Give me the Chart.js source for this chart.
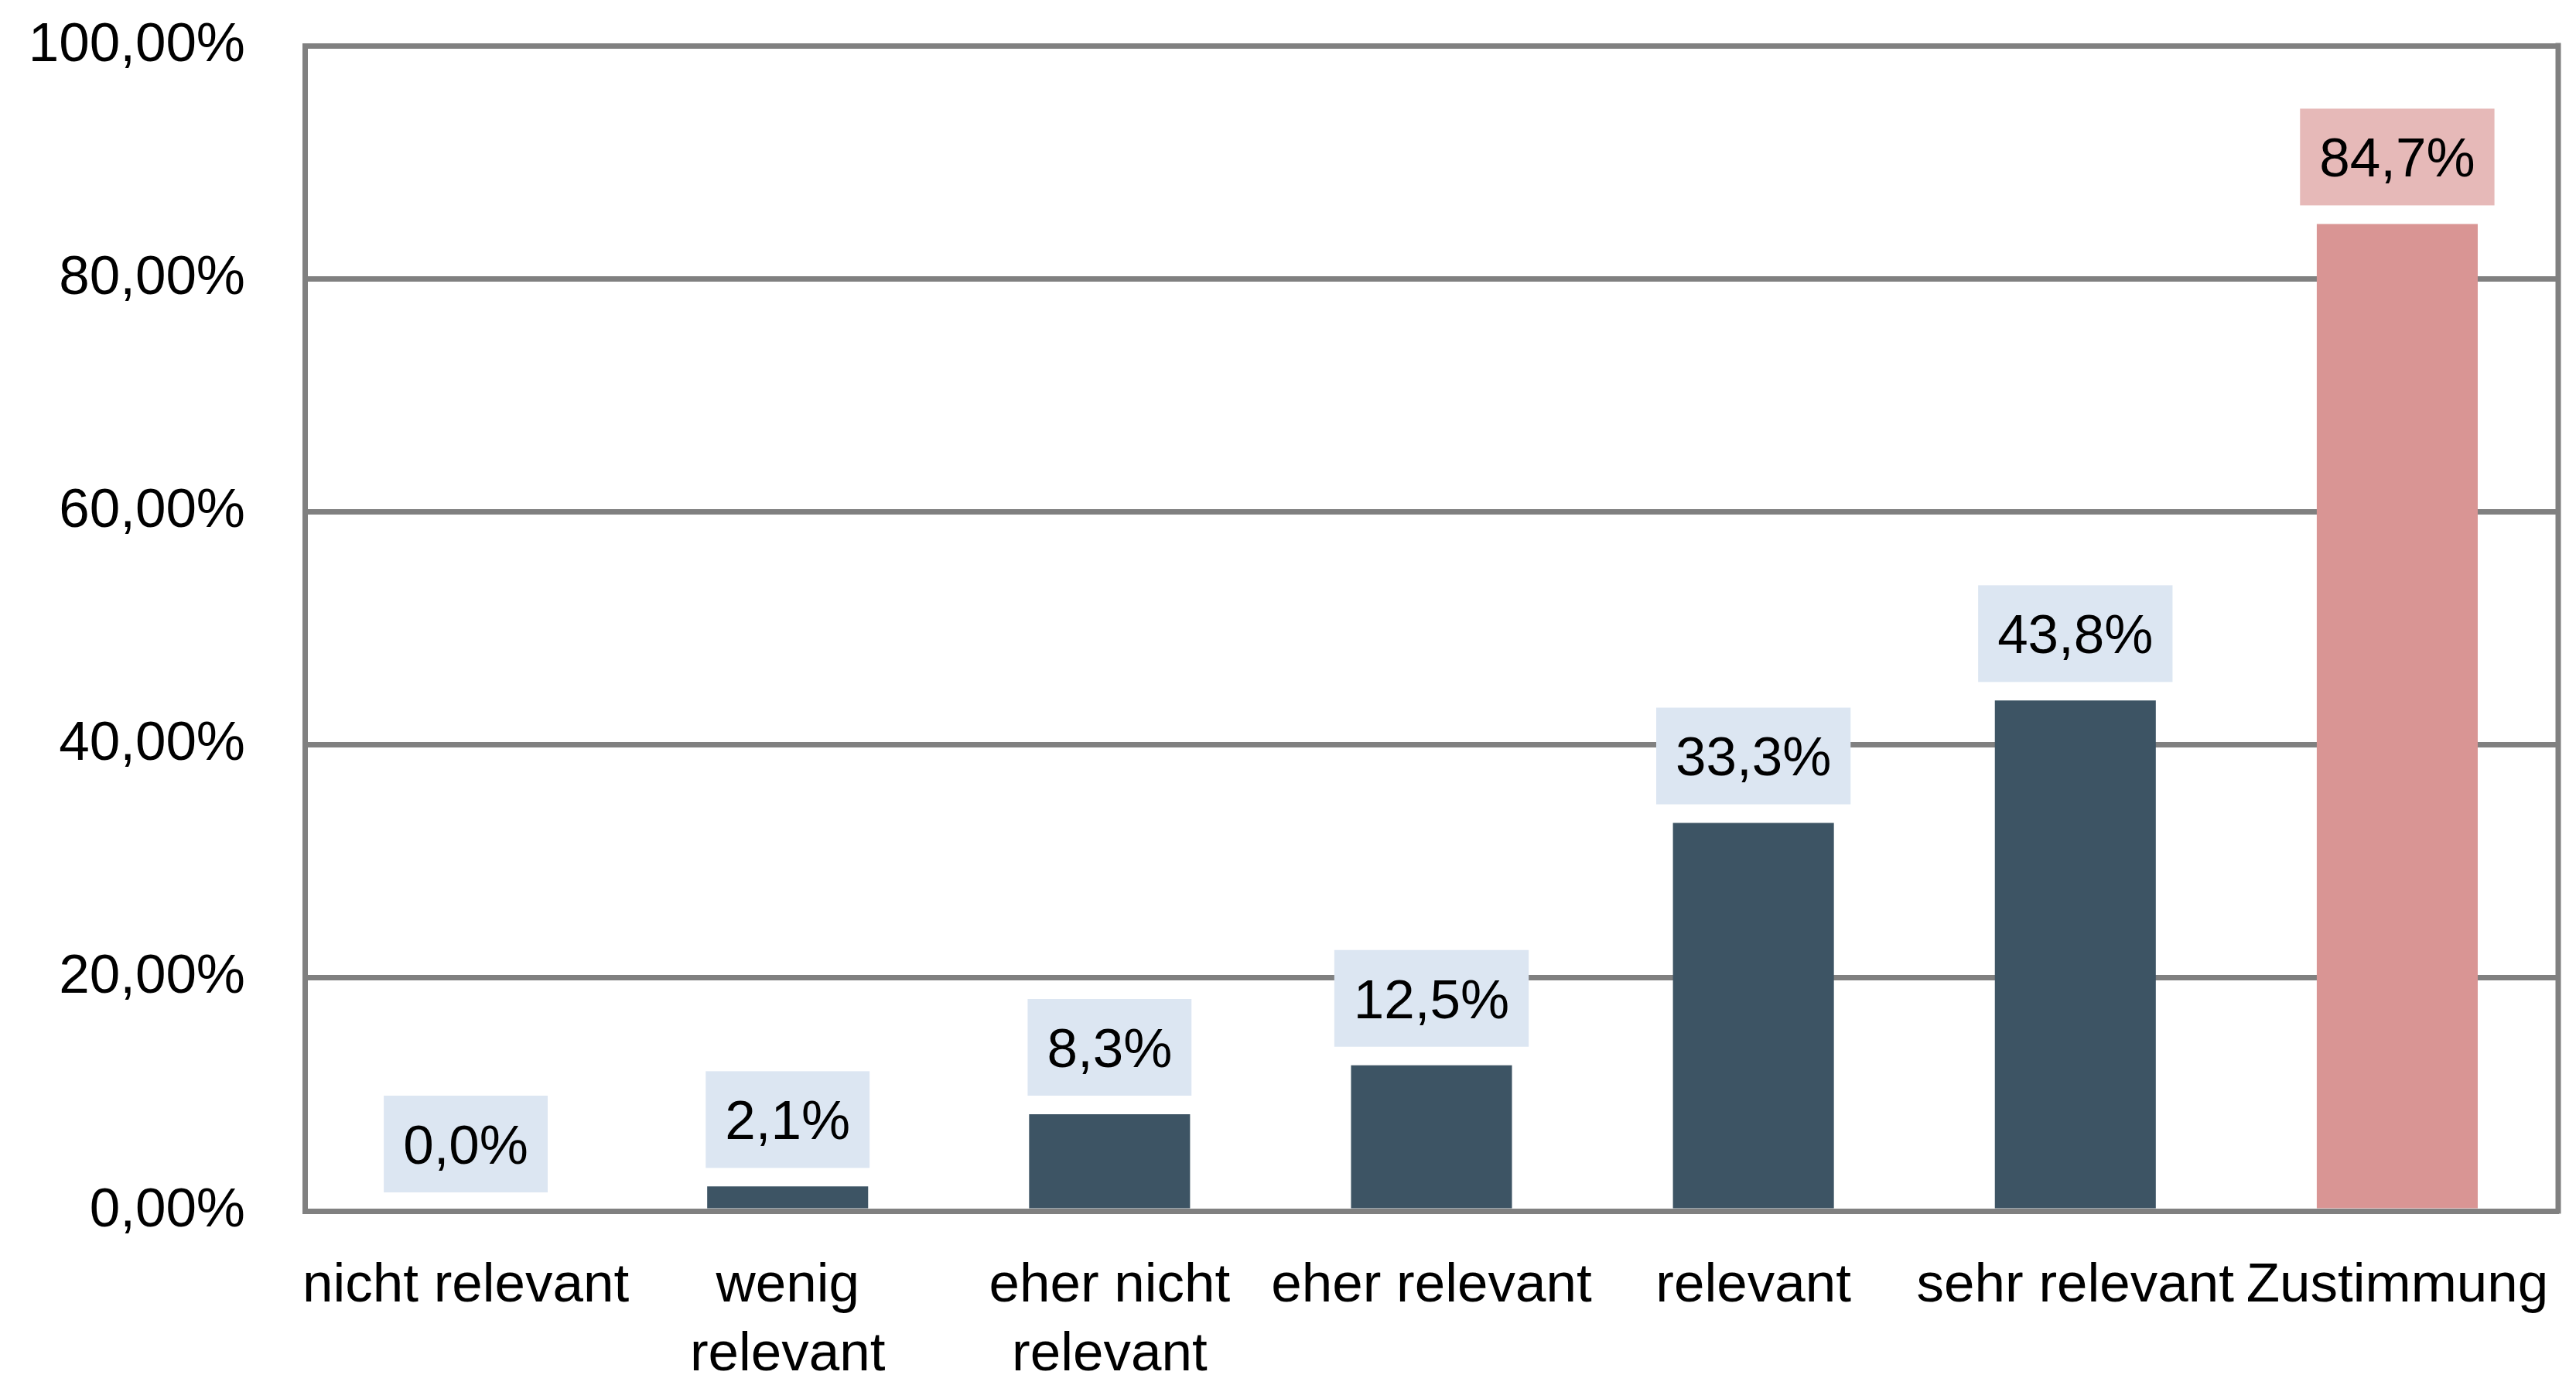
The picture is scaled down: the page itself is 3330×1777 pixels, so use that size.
<!DOCTYPE html>
<html>
<head>
<meta charset="utf-8">
<script src="https://cdn.jsdelivr.net/npm/chart.js@4/dist/chart.umd.min.js"></script>
<style>
  html, body { margin: 0; padding: 0; background: #ffffff; }
  #wrap { width: 3330px; height: 1777px; }
</style>
</head>
<body>
<div id="wrap"><canvas id="c" width="3330" height="1777"></canvas></div>
<script>
// ---- data ----
const categories = [
  'nicht relevant',
  ['wenig', 'relevant'],
  ['eher nicht', 'relevant'],
  'eher relevant',
  'relevant',
  'sehr relevant',
  'Zustimmung'
];
const values = [0.0, 2.1, 8.3, 12.5, 33.3, 43.8, 84.7];
const valueLabels = ['0,0%', '2,1%', '8,3%', '12,5%', '33,3%', '43,8%', '84,7%'];
const yTickValues = [0, 20, 40, 60, 80, 100];
const yTickLabels = ['0,00%', '20,00%', '40,00%', '60,00%', '80,00%', '100,00%'];

// ---- styles ----
const barColors = ['#3D5464', '#3D5464', '#3D5464', '#3D5464', '#3D5464', '#3D5464', '#D99594'];
const boxColors = ['#DCE6F2', '#DCE6F2', '#DCE6F2', '#DCE6F2', '#DCE6F2', '#DCE6F2', '#E6B9B8'];
const FONT = "'Liberation Sans', Arial, sans-serif";
const FSIZE = 71;
const GRID = '#808080';
const GW = 7;
const CLEAR = 'rgba(0,0,0,0)';

const labelPlugin = {
  id: 'valueBoxes',
  beforeDatasetsDraw(chart) {
    const a = chart.chartArea;
    const ctx = chart.ctx;
    ctx.save();
    ctx.strokeStyle = GRID;
    ctx.lineWidth = GW;
    ctx.beginPath();
    ctx.moveTo(a.right, a.top - GW / 2);
    ctx.lineTo(a.right, a.bottom + GW / 2);
    ctx.stroke();
    ctx.restore();
  },
  afterDatasetsDraw(chart) {
    const ctx = chart.ctx;
    const meta = chart.getDatasetMeta(0);
    ctx.save();
    ctx.font = FSIZE + 'px ' + FONT;
    ctx.textAlign = 'center';
    ctx.textBaseline = 'alphabetic';
    meta.data.forEach((bar, i) => {
      const txt = valueLabels[i];
      const tw = ctx.measureText(txt).width;
      const w = tw + 50;
      const h = 125;
      const bottom = bar.y - 24;
      const top = bottom - h;
      ctx.fillStyle = boxColors[i];
      ctx.fillRect(bar.x - w / 2, top, w, h);
      ctx.fillStyle = '#000000';
      ctx.fillText(txt, bar.x, top + h / 2 + 0.716 * FSIZE / 2);
    });
    ctx.restore();
  }
};

new Chart(document.getElementById('c'), {
  type: 'bar',
  data: {
    labels: categories,
    datasets: [{
      data: values,
      backgroundColor: barColors,
      borderWidth: 0,
      barPercentage: 0.5,
      categoryPercentage: 1.0
    }]
  },
  options: {
    responsive: false,
    animation: false,
    devicePixelRatio: 1,
    layout: { padding: { top: 59, right: 23, left: 0, bottom: 0 } },
    plugins: { legend: { display: false }, tooltip: { enabled: false } },
    scales: {
      x: {
        grid: { display: true, color: CLEAR, drawTicks: true, tickLength: 53, tickColor: CLEAR },
        border: { display: true, color: GRID, width: GW },
        ticks: {
          color: '#000000',
          font: { family: FONT, size: FSIZE, lineHeight: 89 / 71 },
          padding: 0,
          maxRotation: 0,
          minRotation: 0,
          autoSkip: false
        },
        afterFit(scale) { scale.height = 1777 - 1565; }
      },
      y: {
        min: 0,
        max: 100,
        afterBuildTicks(scale) { scale.ticks = yTickValues.map(v => ({ value: v })); },
        grid: { color: GRID, lineWidth: GW, drawTicks: true, tickLength: 77, tickColor: CLEAR },
        border: { display: true, color: GRID, width: GW },
        ticks: {
          color: '#000000',
          font: { family: FONT, size: FSIZE },
          padding: 0,
          callback(value, index) { return yTickLabels[yTickValues.indexOf(value)]; }
        },
        afterFit(scale) { scale.width = 394; }
      }
    }
  },
  plugins: [labelPlugin]
});
</script>
</body>
</html>
